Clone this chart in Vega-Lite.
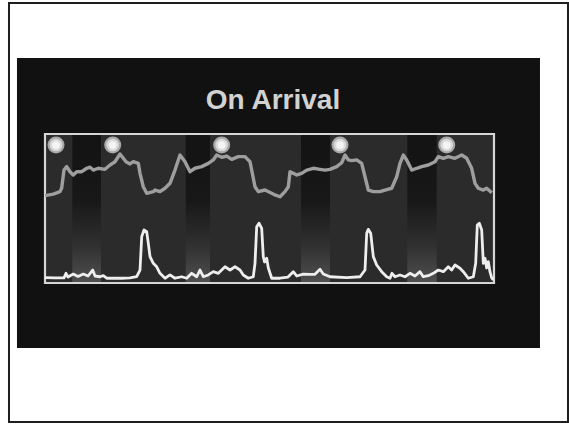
{
  "$schema": "https://vega.github.io/schema/vega-lite/v6.json",
  "width": 449,
  "height": 149,
  "autosize": {"type": "none"},
  "padding": {"left": 45, "top": 134, "right": 75, "bottom": 141},
  "background": "white",
  "config": {"view": {"stroke": null}},
  "datasets": {
    "outer": [{"t": -0.802, "t2": 11.648, "v": -93.3, "v2": 187.9}],
    "panel": [{"t": -0.624, "t2": 11.024, "v": -43.6, "v2": 151.0}],
    "inner": [{"t": 0, "t2": 10, "v": 0, "v2": 100}],
    "bands": [
      {"t": 0.608, "t2": 1.247, "v": 0, "v2": 100},
      {"t": 3.134, "t2": 3.675, "v": 0, "v2": 100},
      {"t": 5.702, "t2": 6.347, "v": 0, "v2": 100},
      {"t": 8.069, "t2": 8.724, "v": 0, "v2": 100}
    ],
    "upper": [
      {"t":0.0,"v":58.6},{"t":0.185,"v":59.7},{"t":0.334,"v":61.3},{"t":0.372,"v":63.8},{"t":0.423,"v":75.8},
      {"t":0.483,"v":78.1},{"t":0.557,"v":74.7},{"t":0.630,"v":72.5},{"t":0.706,"v":74.7},{"t":0.817,"v":74.7},
      {"t":0.929,"v":77.0},{"t":1.002,"v":77.7},{"t":1.076,"v":75.8},{"t":1.187,"v":77.0},{"t":1.336,"v":76.3},
      {"t":1.448,"v":79.2},{"t":1.559,"v":81.4},{"t":1.670,"v":86.6},{"t":1.744,"v":83.7},{"t":1.804,"v":81.4},
      {"t":1.893,"v":79.9},{"t":1.967,"v":81.4},{"t":2.078,"v":80.3},{"t":2.116,"v":73.6},{"t":2.189,"v":64.6},
      {"t":2.265,"v":60.2},{"t":2.412,"v":61.3},{"t":2.450,"v":62.4},{"t":2.561,"v":61.3},{"t":2.673,"v":63.6},
      {"t":2.784,"v":66.9},{"t":2.895,"v":75.8},{"t":3.007,"v":85.9},{"t":3.118,"v":81.4},{"t":3.229,"v":74.7},
      {"t":3.341,"v":77.0},{"t":3.490,"v":78.1},{"t":3.637,"v":80.3},{"t":3.748,"v":82.6},{"t":3.824,"v":85.9},
      {"t":3.935,"v":84.4},{"t":4.047,"v":85.2},{"t":4.158,"v":83.0},{"t":4.305,"v":84.8},{"t":4.454,"v":84.8},
      {"t":4.566,"v":81.4},{"t":4.677,"v":64.6},{"t":4.751,"v":61.3},{"t":4.900,"v":62.4},{"t":5.049,"v":60.2},
      {"t":5.122,"v":59.1},{"t":5.234,"v":57.9},{"t":5.345,"v":61.3},{"t":5.419,"v":64.6},{"t":5.457,"v":74.7},
      {"t":5.530,"v":73.6},{"t":5.606,"v":72.5},{"t":5.717,"v":73.6},{"t":5.829,"v":75.8},{"t":5.976,"v":77.0},
      {"t":6.125,"v":76.3},{"t":6.236,"v":75.8},{"t":6.347,"v":76.3},{"t":6.497,"v":78.1},{"t":6.608,"v":80.7},
      {"t":6.682,"v":85.9},{"t":6.755,"v":82.6},{"t":6.831,"v":82.1},{"t":6.942,"v":82.6},{"t":7.053,"v":80.3},
      {"t":7.127,"v":71.3},{"t":7.200,"v":62.4},{"t":7.312,"v":61.3},{"t":7.461,"v":61.3},{"t":7.572,"v":62.4},
      {"t":7.722,"v":63.6},{"t":7.833,"v":71.3},{"t":7.906,"v":80.3},{"t":7.980,"v":85.9},{"t":8.056,"v":82.6},
      {"t":8.167,"v":75.8},{"t":8.278,"v":77.0},{"t":8.390,"v":78.1},{"t":8.537,"v":79.2},{"t":8.686,"v":81.4},
      {"t":8.760,"v":84.8},{"t":8.871,"v":83.7},{"t":8.982,"v":84.8},{"t":9.131,"v":83.7},{"t":9.281,"v":85.9},
      {"t":9.392,"v":83.7},{"t":9.503,"v":77.0},{"t":9.577,"v":66.9},{"t":9.650,"v":63.6},{"t":9.762,"v":62.4},
      {"t":9.837,"v":63.6},{"t":9.949,"v":60.6}
    ],
    "lower": [
      {"t":0.0,"v":3.6},{"t":0.223,"v":3.4},{"t":0.423,"v":3.4},{"t":0.468,"v":6.5},{"t":0.512,"v":4.0},
      {"t":0.630,"v":6.0},{"t":0.735,"v":4.4},{"t":0.853,"v":6.0},{"t":0.958,"v":4.7},{"t":1.062,"v":8.7},
      {"t":1.114,"v":4.7},{"t":1.225,"v":4.2},{"t":1.298,"v":4.9},{"t":1.374,"v":3.2},{"t":1.708,"v":3.2},
      {"t":1.893,"v":3.4},{"t":2.042,"v":4.2},{"t":2.116,"v":8.7},{"t":2.154,"v":31.1},{"t":2.205,"v":35.6},
      {"t":2.265,"v":34.4},{"t":2.301,"v":26.6},{"t":2.339,"v":17.7},{"t":2.412,"v":13.2},{"t":2.488,"v":10.9},
      {"t":2.561,"v":6.5},{"t":2.673,"v":3.2},{"t":2.784,"v":5.4},{"t":2.895,"v":3.2},{"t":3.045,"v":4.2},
      {"t":3.156,"v":3.2},{"t":3.267,"v":6.5},{"t":3.379,"v":4.2},{"t":3.452,"v":8.7},{"t":3.526,"v":4.2},
      {"t":3.637,"v":5.4},{"t":3.748,"v":7.6},{"t":3.860,"v":6.5},{"t":4.009,"v":10.9},{"t":4.120,"v":8.7},
      {"t":4.232,"v":10.9},{"t":4.343,"v":8.7},{"t":4.416,"v":5.4},{"t":4.528,"v":3.2},{"t":4.639,"v":4.2},
      {"t":4.677,"v":13.2},{"t":4.715,"v":37.8},{"t":4.766,"v":40.1},{"t":4.826,"v":36.7},{"t":4.862,"v":17.7},
      {"t":4.889,"v":14.1},{"t":4.938,"v":16.6},{"t":4.974,"v":10.1},{"t":5.049,"v":3.2},{"t":5.234,"v":3.2},
      {"t":5.412,"v":4.0},{"t":5.530,"v":7.6},{"t":5.606,"v":4.7},{"t":5.753,"v":6.0},{"t":5.902,"v":5.8},
      {"t":6.013,"v":5.8},{"t":6.125,"v":9.2},{"t":6.198,"v":6.0},{"t":6.347,"v":4.2},{"t":6.720,"v":3.6},
      {"t":7.016,"v":4.2},{"t":7.127,"v":8.7},{"t":7.165,"v":33.4},{"t":7.200,"v":36.0},{"t":7.254,"v":33.4},
      {"t":7.312,"v":17.7},{"t":7.387,"v":12.1},{"t":7.499,"v":7.6},{"t":7.610,"v":4.2},{"t":7.684,"v":3.2},
      {"t":7.728,"v":6.5},{"t":7.795,"v":4.2},{"t":7.906,"v":5.4},{"t":8.018,"v":4.2},{"t":8.129,"v":6.5},
      {"t":8.241,"v":4.7},{"t":8.352,"v":7.6},{"t":8.425,"v":4.2},{"t":8.537,"v":4.9},{"t":8.648,"v":6.5},
      {"t":8.760,"v":8.7},{"t":8.871,"v":7.6},{"t":8.982,"v":10.9},{"t":9.057,"v":8.7},{"t":9.131,"v":12.1},
      {"t":9.243,"v":9.9},{"t":9.316,"v":7.6},{"t":9.428,"v":3.2},{"t":9.540,"v":4.2},{"t":9.592,"v":13.2},
      {"t":9.628,"v":38.9},{"t":9.673,"v":40.1},{"t":9.726,"v":35.6},{"t":9.762,"v":13.2},{"t":9.800,"v":16.6},
      {"t":9.837,"v":10.1},{"t":9.873,"v":14.3},{"t":9.911,"v":7.4},{"t":9.949,"v":3.4},{"t":9.984,"v":2.0}
    ],
    "markers": [
      {"t": 0.245, "v": 92.6},
      {"t": 1.508, "v": 92.6},
      {"t": 3.935, "v": 92.6},
      {"t": 6.570, "v": 92.6},
      {"t": 8.947, "v": 92.6}
    ],
    "title": [{"t": 5.078, "v": 116.8, "label": "On Arrival"}]
  },
  "encoding": {
    "x": {"field": "t", "type": "quantitative", "scale": {"domain": [0, 10], "zero": false, "nice": false}, "axis": null},
    "y": {"field": "v", "type": "quantitative", "scale": {"domain": [0, 100], "zero": false, "nice": false}, "axis": null}
  },
  "layer": [
    {
      "data": {"name": "outer"},
      "mark": {"type": "rect", "fill": "white", "stroke": "#1e1e1e", "strokeWidth": 2},
      "encoding": {"x2": {"field": "t2"}, "y2": {"field": "v2"}}
    },
    {
      "data": {"name": "panel"},
      "mark": {"type": "rect", "fill": "#111111"},
      "encoding": {"x2": {"field": "t2"}, "y2": {"field": "v2"}}
    },
    {
      "data": {"name": "inner"},
      "mark": {"type": "rect", "fill": "#2b2b2b"},
      "encoding": {"x2": {"field": "t2"}, "y2": {"field": "v2"}}
    },
    {
      "data": {"name": "bands"},
      "mark": {
        "type": "rect",
        "fill": {
          "gradient": "linear", "x1": 0, "y1": 0, "x2": 0, "y2": 1,
          "stops": [
            {"offset": 0, "color": "#131313"},
            {"offset": 0.45, "color": "#181818"},
            {"offset": 0.75, "color": "#303030"},
            {"offset": 1, "color": "#505050"}
          ]
        }
      },
      "encoding": {"x2": {"field": "t2"}, "y2": {"field": "v2"}}
    },
    {
      "data": {"name": "inner"},
      "mark": {"type": "rect", "fill": null, "fillOpacity": 0, "stroke": "#d6d6d6", "strokeWidth": 2.2},
      "encoding": {"x2": {"field": "t2"}, "y2": {"field": "v2"}}
    },
    {
      "data": {"name": "upper"},
      "mark": {"type": "line", "color": "#9e9e9e", "strokeWidth": 3.4, "strokeJoin": "round"},
      "encoding": {}
    },
    {
      "data": {"name": "lower"},
      "mark": {"type": "line", "color": "#eeeeee", "strokeWidth": 2.8, "strokeJoin": "round"},
      "encoding": {}
    },
    {
      "data": {"name": "markers"},
      "mark": {"type": "point", "shape": "circle", "filled": true, "size": 290, "color": "#a8a8a8", "opacity": 1},
      "encoding": {}
    },
    {
      "data": {"name": "markers"},
      "mark": {"type": "point", "shape": "circle", "filled": true, "size": 160, "color": "#d8d8d8", "opacity": 1},
      "encoding": {}
    },
    {
      "data": {"name": "markers"},
      "mark": {"type": "point", "shape": "circle", "filled": true, "size": 60, "color": "#f4f4f4", "opacity": 1},
      "encoding": {}
    },
    {
      "data": {"name": "title"},
      "mark": {"type": "text", "font": "Liberation Sans", "fontSize": 28, "fontWeight": "bold", "color": "#d2d2d2", "align": "center", "baseline": "alphabetic"},
      "encoding": {"text": {"field": "label"}}
    }
  ]
}
